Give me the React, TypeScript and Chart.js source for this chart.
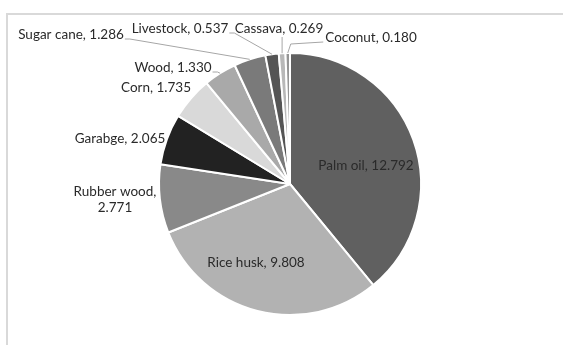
import React, { useEffect, useRef } from "react";
import { Chart, registerables } from "chart.js";

Chart.register(...registerables);

const categories = [
  "Palm oil",
  "Rice husk",
  "Rubber wood",
  "Garabge",
  "Corn",
  "Wood",
  "Sugar cane",
  "Livestock",
  "Cassava",
  "Coconut",
];
const values = [12.792, 9.808, 2.771, 2.065, 1.735, 1.33, 1.286, 0.537, 0.269, 0.18];
const valueLabels = ["12.792", "9.808", "2.771", "2.065", "1.735", "1.330", "1.286", "0.537", "0.269", "0.180"];
const sliceColors = [
  "#606060",
  "#b2b2b2",
  "#898989",
  "#222222",
  "#d9d9d9",
  "#a9a9a9",
  "#7a7a7a",
  "#555555",
  "#b8b8b8",
  "#959595",
];

// label placement relative to pie centre (px); leader side
type LabelPlace = { dx: number; dy: number; leader?: "right" | "left" | "bottom"; wrap?: boolean };
const labelPlaces: LabelPlace[] = [
  { dx: 76, dy: -18 },
  { dx: -34, dy: 79 },
  { dx: -175, dy: 16, wrap: true },
  { dx: -170, dy: -45 },
  { dx: -134, dy: -96 },
  { dx: -117, dy: -116, leader: "right" },
  { dx: -219, dy: -149, leader: "right" },
  { dx: -110, dy: -155, leader: "right" },
  { dx: -11, dy: -155, leader: "bottom" },
  { dx: 81, dy: -146, leader: "left" },
];

const FONT = "13.5px Lato";
const TEXT_COLOR = "#2a2a2a";

const framePlugin = {
  id: "frame",
  beforeDraw(chart: any) {
    const ctx = chart.ctx;
    ctx.save();
    ctx.strokeStyle = "#d9d9d9";
    ctx.lineWidth = 2;
    ctx.beginPath();
    ctx.moveTo(7, chart.height);
    ctx.lineTo(7, 14);
    ctx.lineTo(chart.width, 14);
    ctx.stroke();
    ctx.restore();
  },
};

const labelPlugin = {
  id: "pieLabels",
  afterDraw(chart: any) {
    const ctx = chart.ctx;
    const meta = chart.getDatasetMeta(0);
    ctx.save();
    ctx.font = FONT;
    ctx.fillStyle = TEXT_COLOR;
    ctx.textAlign = "center";
    ctx.textBaseline = "middle";
    meta.data.forEach((arc: any, i: number) => {
      const p = labelPlaces[i];
      const cx = arc.x;
      const cy = arc.y;
      const tx = cx + p.dx;
      const ty = cy + p.dy;
      let lines: string[];
      if (p.wrap) lines = [categories[i] + ",", valueLabels[i]];
      else lines = [categories[i] + ", " + valueLabels[i]];
      const lh = 16;
      const y0 = ty - ((lines.length - 1) * lh) / 2;
      let maxW = 0;
      lines.forEach((t, k) => {
        ctx.fillText(t, tx, y0 + k * lh);
        maxW = Math.max(maxW, ctx.measureText(t).width);
      });
      if (p.leader) {
        const mid = (arc.startAngle + arc.endAngle) / 2;
        const ax = cx + Math.cos(mid) * arc.outerRadius;
        const ay = cy + Math.sin(mid) * arc.outerRadius;
        ctx.save();
        ctx.strokeStyle = "#a6a6a6";
        ctx.lineWidth = 1;
        ctx.beginPath();
        if (p.leader === "right") {
          const sx = tx + maxW / 2 + 1;
          const sy = ty + 4;
          ctx.moveTo(sx, sy);
          ctx.lineTo(sx + 5, sy);
          ctx.lineTo(ax, ay);
        } else if (p.leader === "left") {
          const sx = tx - maxW / 2 - 2;
          const sy = ty + 4;
          ctx.moveTo(sx, sy);
          ctx.lineTo(ax + 3, sy + 2);
          ctx.lineTo(ax, ay);
        } else {
          const sy = ty + 8;
          ctx.moveTo(ax, sy);
          ctx.lineTo(ax, ay);
        }
        ctx.stroke();
        ctx.restore();
      }
    });
    ctx.restore();
  },
};

export default function App() {
  const ref = useRef<HTMLCanvasElement>(null);
  useEffect(() => {
    if (!ref.current) return;
    const chart = new Chart(ref.current, {
      type: "pie",
      data: {
        labels: categories,
        datasets: [
          {
            data: values,
            backgroundColor: sliceColors,
            borderColor: "#ffffff",
            borderWidth: 2,
          },
        ],
      },
      options: {
        animation: false,
        responsive: true,
        maintainAspectRatio: false,
        layout: { padding: { left: 158, right: 141, top: 52, bottom: 29 } },
        plugins: { legend: { display: false }, tooltip: { enabled: false } },
      },
      plugins: [framePlugin, labelPlugin],
    });
    return () => chart.destroy();
  }, []);
  return (
    <div style={{ position: "fixed", left: 0, top: 0, width: 563, height: 345, background: "#fff" }}>
      <canvas ref={ref} />
    </div>
  );
}
